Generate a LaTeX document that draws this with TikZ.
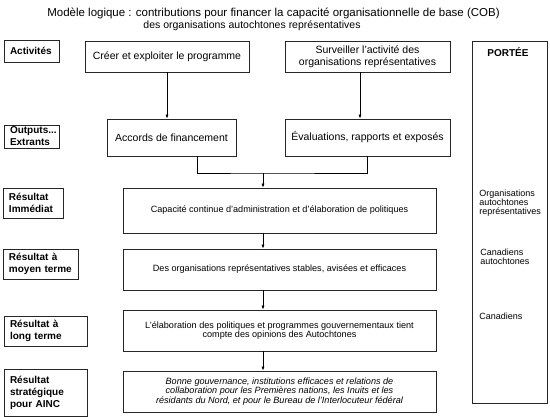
\documentclass[tikz,border=0pt]{standalone}
\usepackage{fontspec}
\setmainfont{Liberation Sans}
\usetikzlibrary{arrows.meta}

\begin{document}
\begin{tikzpicture}[x=1pt,y=-1pt,>={Latex[length=4pt,width=3pt]},
		line width=0.7pt,
		lbl/.style={draw=black!85,inner xsep=6pt,inner ysep=0pt,align=left,font=\fontsize{10}{12}\selectfont\bfseries},
		top/.style={draw=black!85,inner sep=0pt,align=center,font=\fontsize{10.5}{12}\selectfont},
		res/.style={draw=black!85,inner sep=0pt,align=center,minimum width=313pt,font=\fontsize{9.1}{9.5}\selectfont},
		cible/.style={anchor=west,inner sep=0pt,align=left,font=\fontsize{9}{9.2}\selectfont}]
		\useasboundingbox (0,0) rectangle (550,417);
		\node[inner sep=0pt,font=\fontsize{11.5}{12}\selectfont] (titre) at (273.5,13) {Modèle logique : contributions pour financer la capacité organisationnelle de base (COB)};
		\node[inner sep=0pt,font=\fontsize{10.5}{12}\selectfont] (soustitre) at (252,25.5) {des organisations autochtones représentatives};
		\node[lbl,text width=43pt,minimum height=22pt] (activites) at (31.5,51) {Activités};
		\node[lbl,text width=43pt,minimum height=23pt] (extrants) at (31.5,136.5) {Outputs...\\Extrants};
		\node[lbl,text width=48pt,minimum height=30pt] (immediat) at (33,203) {Résultat\\Immédiat};
		\node[lbl,text width=63pt,minimum height=30pt] (moyen) at (40.5,264) {Résultat à\\moyen terme};
		\node[lbl,text width=71pt,minimum height=30pt] (long) at (45.5,331) {Résultat à\\long terme};
		\node[lbl,text width=71pt,minimum height=47pt] (strategique) at (45.5,392.5) {Résultat\\stratégique\\pour AINC};
		\node[top,minimum width=164pt,minimum height=31pt] (creer) at (167,56.5) {Créer et exploiter le programme};
		\node[top,minimum width=165pt,minimum height=31pt] (surveiller) at (367.5,56.5) {Surveiller l'activité des\\organisations représentatives};
		\node[top,minimum width=129pt,minimum height=37pt] (accords) at (171.5,137.5) {Accords de financement};
		\node[top,minimum width=165pt,minimum height=37pt] (evaluations) at (367.5,137.5) {Évaluations, rapports et exposés};
		\node[res,minimum height=45pt] (capacite) at (279.5,210.5) {Capacité continue d'administration et d'élaboration de politiques};
		\node[res,minimum height=41pt] (stables) at (279.5,269.5) {Des organisations représentatives stables, avisées et efficaces};
		\node[res,minimum height=41pt] (opinions) at (279.5,330.5) {L'élaboration des politiques et programmes gouvernementaux tient\\compte des opinions des Autochtones};
		\node[res,minimum height=41pt,font=\fontsize{9.1}{9.5}\selectfont\itshape] (gouvernance) at (279.5,391.5) {Bonne gouvernance, institutions efficaces et relations de\\collaboration pour les Premières nations, les Inuits et les\\résidants du Nord, et pour le Bureau de l'Interlocuteur fédéral};
		\node[draw=black!85,minimum width=75pt,minimum height=362pt,inner sep=0pt] (portee) at (509.5,222) {};
		\node[inner sep=0pt,font=\fontsize{10}{12}\selectfont\bfseries] (porteetitre) at (508,52.5) {PORTÉE};
		\node[cible] (organisations) at (479,203) {Organisations\\autochtones\\représentatives};
		\node[cible] (autochtones) at (480,256.5) {Canadiens\\autochtones};
		\node[cible] (canadiens) at (479,316) {Canadiens};
		\coordinate (jonction) at (263,173);
		\draw[->] (creer) -- (creer |- accords.north);
		\draw[->] ([xshift=-7.5pt]surveiller.south) -- ([xshift=-7.5pt]surveiller.south |- evaluations.north);
		\draw ([xshift=25.5pt]accords.south) |- (jonction) -| (evaluations.south);
		\draw[->] (jonction) -- (jonction |- capacite.north);
		\foreach \a/\b in {capacite/stables,stables/opinions,opinions/gouvernance}
			\draw[->] (\a.south -| jonction) -- (\b.north -| jonction);
	\end{tikzpicture}
\end{document}
